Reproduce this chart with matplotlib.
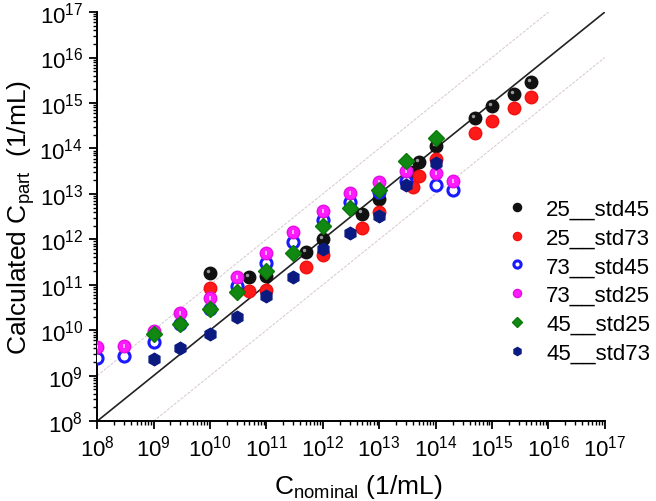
import matplotlib
matplotlib.use("Agg")
import matplotlib.pyplot as plt
import matplotlib.transforms as mtransforms
from matplotlib.ticker import LogLocator

plt.rcParams["font.family"] = ["Liberation Sans", "DejaVu Sans"]
plt.rcParams["mathtext.fontset"] = "custom"
plt.rcParams["mathtext.rm"] = "Liberation Sans"
plt.rcParams["mathtext.it"] = "Liberation Sans:italic"

# Donnees (1/mL)
x_25_std45 = [1e10, 5e10, 1e11, 5e11, 1e12, 5e12, 1e13, 4e13, 5e13, 1e14, 5e14, 1e15, 2.5e15, 5e15]
y_25_std45 = [1.8e11, 1.5e11, 1.55e11, 5.2e11, 1.0e12, 3.7e12, 7.8e12, 3.1e13, 5.1e13, 1.15e14, 4.6e14, 8.5e14, 1.6e15, 2.9e15]

x_25_std73 = [1e10, 5e10, 1e11, 5e11, 1e12, 5e12, 1e13, 4e13, 5e13, 1e14, 5e14, 1e15, 2.5e15, 5e15]
y_25_std73 = [8.7e10, 7.2e10, 7.8e10, 2.5e11, 4.6e11, 1.8e12, 3.9e12, 1.4e13, 2.45e13, 5.8e13, 2.2e14, 4.0e14, 7.6e14, 1.35e15]

x_73_std45 = [1e8, 3e8, 1e9, 3e9, 1e10, 3e10, 1e11, 3e11, 1e12, 3e12, 1e13, 3e13, 1e14, 2e14]
y_73_std45 = [2.5e9, 2.7e9, 5.4e9, 1.4e10, 3.0e10, 9.3e10, 3.0e11, 8.7e11, 2.6e12, 6.5e12, 1.1e13, 1.95e13, 1.6e13, 1.2e13]

x_73_std25 = [1e8, 3e8, 1e9, 3e9, 1e10, 3e10, 1e11, 3e11, 1e12, 3e12, 1e13, 3e13, 1e14, 2e14]
y_73_std25 = [4.3e9, 4.5e9, 9.5e9, 2.45e10, 5.1e10, 1.5e11, 4.9e11, 1.45e12, 4.3e12, 1.07e13, 1.8e13, 3.2e13, 2.9e13, 1.95e13]

x_45_std25 = [1e9, 3e9, 1e10, 3e10, 1e11, 3e11, 1e12, 3e12, 1e13, 3e13, 1e14]
y_45_std25 = [8.1e9, 1.4e10, 2.95e10, 7.1e10, 2.0e11, 5.1e11, 2.0e12, 4.8e12, 1.23e13, 5.4e13, 1.7e14]

x_45_std73 = [1e9, 3e9, 1e10, 3e10, 1e11, 3e11, 1e12, 3e12, 1e13, 3e13, 1e14]
y_45_std73 = [2.3e9, 4.0e9, 8.3e9, 2.0e10, 5.8e10, 1.45e11, 6.0e11, 1.4e12, 3.3e12, 1.6e13, 4.8e13]

ligne_x = [1e8, 1e17]

fig = plt.figure(figsize=(6.56, 5.02), dpi=100)
ax = fig.add_axes([0.148, 0.159, 0.774, 0.815])

# Droites de reference : y = x, y = 10x, y = x/10
ax.plot(ligne_x, ligne_x, color="#222222", lw=1.2, zorder=2)
ax.plot([1e8, 1e16], [1e9, 1e17], color="#d6c6d0", lw=0.7, ls=(0, (3, 1.5)), zorder=1)
ax.plot([1e9, 1e17], [1e8, 1e16], color="#d6c6d0", lw=0.7, ls=(0, (3, 1.5)), zorder=1)

ms = 9
reflet = ax.transData + mtransforms.ScaledTranslation(-1.5 / 72, 1.5 / 72, fig.dpi_scale_trans)

ax.plot(x_25_std45, y_25_std45, "o", ms=ms, color="#111111", mec="#111111",
        label="25__std45", zorder=3)
ax.plot(x_25_std45, y_25_std45, "o", ms=2.5, color="#9a9a9a", mew=0,
        transform=reflet, zorder=3)

ax.plot(x_25_std73, y_25_std73, "o", ms=ms, color="#ff1a1a", mec="#f01010",
        label="25__std73", zorder=4)

ax.plot(x_73_std45, y_73_std45, "o", ms=ms - 1, mfc="white", mec="#1a1aff",
        mew=2.2, label="73__std45", zorder=5)

ax.plot(x_73_std25, y_73_std25, "o", ms=ms, color="#ff1aff", mec="#e010e0",
        label="73__std25", zorder=6)
ax.plot(x_73_std25, y_73_std25, "|", ms=3, mew=1.2, color="#ffd0ff", zorder=6)

ax.plot(x_45_std25, y_45_std25, "D", ms=ms - 1, color="#118811", mec="#0a7a0a",
        label="45__std25", zorder=7)

ax.plot(x_45_std73, y_45_std73, "h", ms=ms, color="#0a1a80", mec="#0a1a80",
        label="45__std73", zorder=8)

ax.set_xscale("log")
ax.set_yscale("log")
ax.set_xlim(1e8, 1e17)
ax.set_ylim(1e8, 1e17)

for axe in [ax.xaxis, ax.yaxis]:
    axe.set_major_locator(LogLocator(base=10, numticks=20))
    axe.set_minor_locator(LogLocator(base=10, subs=range(2, 10), numticks=20))

ax.spines["top"].set_visible(False)
ax.spines["right"].set_visible(False)
ax.spines["left"].set_linewidth(1.4)
ax.spines["bottom"].set_linewidth(1.4)
ax.tick_params(which="major", direction="out", length=6, width=1.3,
               labelsize=16, pad=4)
ax.tick_params(which="minor", direction="out", length=3, width=1.0)

ax.set_xlabel("C$_{\\mathrm{nominal}}$ (1/mL)", fontsize=19)
ax.xaxis.set_label_coords(0.515, -0.125)
ax.set_ylabel("Calculated C$_{\\mathrm{part}}$  (1/mL)", fontsize=19)
ax.yaxis.set_label_coords(-0.118, 0.5)

ax.legend(loc="upper left", bbox_to_anchor=(0.758, 0.62),
          bbox_transform=fig.transFigure, frameon=False, fontsize=16,
          markerscale=0.65, handlelength=1.0, handletextpad=0.8,
          labelspacing=0.35, borderaxespad=0)

fig.savefig("out.png", dpi=100)
